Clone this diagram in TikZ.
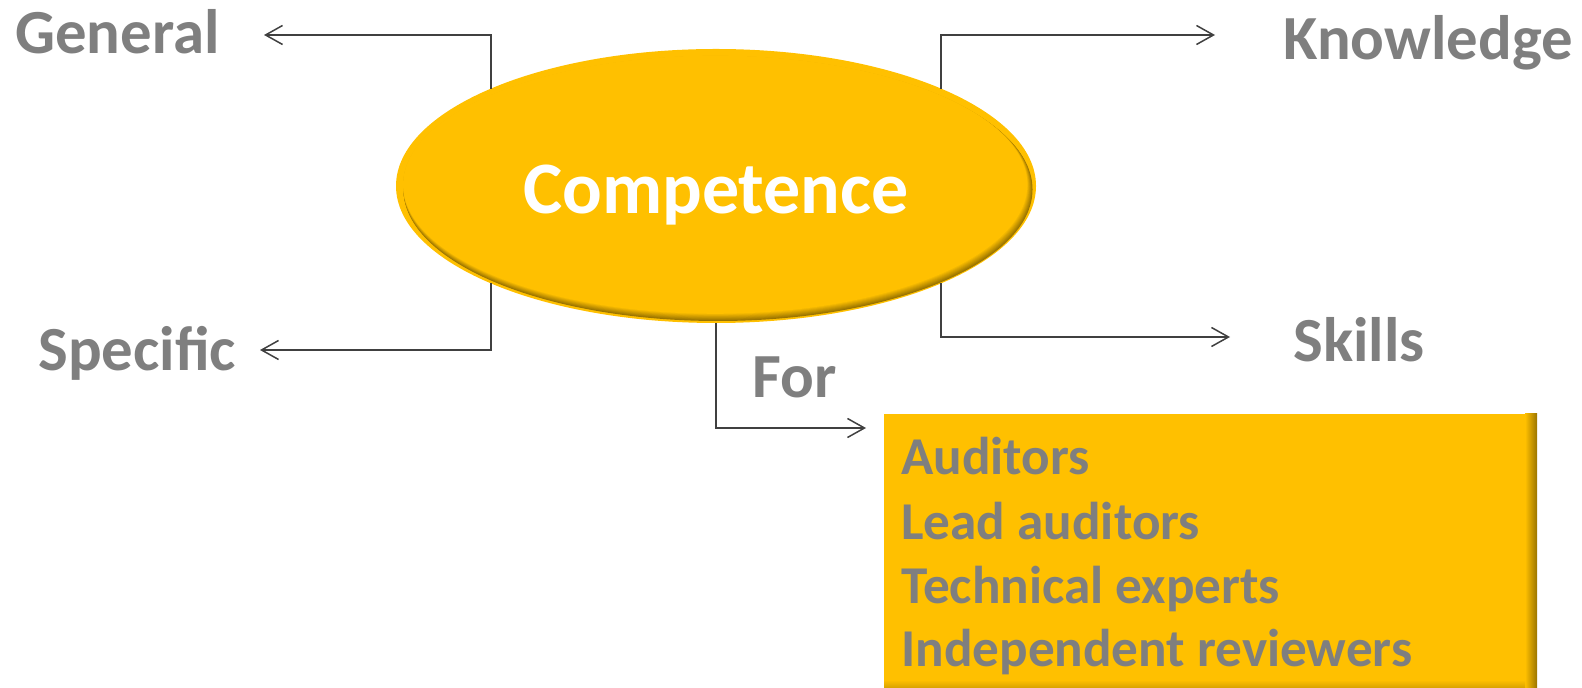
\documentclass[tikz,border=0pt]{standalone}
\usepackage{fontspec}
\setmainfont{Carlito}
\usetikzlibrary{shapes.geometric,arrows.meta}
\definecolor{gold}{HTML}{FFC000}
\definecolor{golddark}{HTML}{9A7400}
\definecolor{txtgray}{HTML}{7F7F7F}
\definecolor{linegray}{HTML}{404040}
\begin{document}
\begin{tikzpicture}[x=0.5pt,y=-0.5pt,
  lbl/.style={font=\fontsize{31.4}{36}\selectfont\bfseries, text=txtgray, inner sep=0, anchor=base west},
  item/.style={font=\fontsize{26.6}{32}\selectfont\bfseries, text=txtgray, inner sep=0, anchor=base west},
  conn/.style={draw=linegray, line width=0.75pt, -{Straight Barb[length=8.5pt,width=9.5pt]}}]
\useasboundingbox (0,0) rectangle (1582,688);
% ellipse layers
\fill[gold] (716,186) ellipse [x radius=320, y radius=137];
\foreach \i in {0,...,8}{
  \pgfmathsetmacro{\pc}{\i*12.5}
  \fill[gold!\pc!golddark] ({718-\i*0.35},{189.5-\i*0.6}) ellipse [x radius={314.5-\i*0.3}, y radius={131.5-\i*0.3}];
}
\node[ellipse, minimum width=320pt, minimum height=137pt, inner sep=0, outer sep=0] (c) at (716,186) {};
\node[font=\fontsize{37}{42}\selectfont\bfseries, text=white, inner sep=0, anchor=base] (ctext) at (716,214) {Competence};
% points where the connectors leave the ellipse
\coordinate (cTL) at (491,88.6);
\coordinate (cBL) at (491,283.4);
\coordinate (cTR) at (941,88.6);
\coordinate (cBR) at (941,283.4);
% box
\node[fill=gold, minimum width=326.5pt, minimum height=137pt, inner sep=0, outer sep=0, anchor=north west] (box) at (884,414) {};
\shade[left color=gold, right color=golddark] (1525,414) rectangle (1537,688);
\shade[top color=gold, bottom color=gold!60!golddark] (884,680) rectangle (1525,688);
\node[item] (a1) at (901,475) {Auditors};
\node[item] (a2) at (901,539) {Lead auditors};
\node[item] (a3) at (901,603) {Technical experts};
\node[item] (a4) at (901,666) {Independent reviewers};
% labels
\node[lbl] (gen) at (15,54) {General};
\node[lbl] (spec) at (38,371) {Specific};
\node[lbl] (know) at (1283,60) {Knowledge};
\node[lbl] (skill) at (1293,362) {Skills};
\node[lbl] (for) at (752,398) {For};
% tips
\coordinate (tipGen) at (264,35);
\coordinate (tipSpec) at (260,350);
\coordinate (tipKnow) at (1215,35);
\coordinate (tipSkill) at (1230,337);
\coordinate (tipFor) at (866,428);
\draw[conn] (cTL) |- (tipGen);
\draw[conn] (cBL) |- (tipSpec);
\draw[conn] (cTR) |- (tipKnow);
\draw[conn] (cBR) |- (tipSkill);
\draw[conn] (c.south) |- (tipFor);
\end{tikzpicture}
\end{document}
